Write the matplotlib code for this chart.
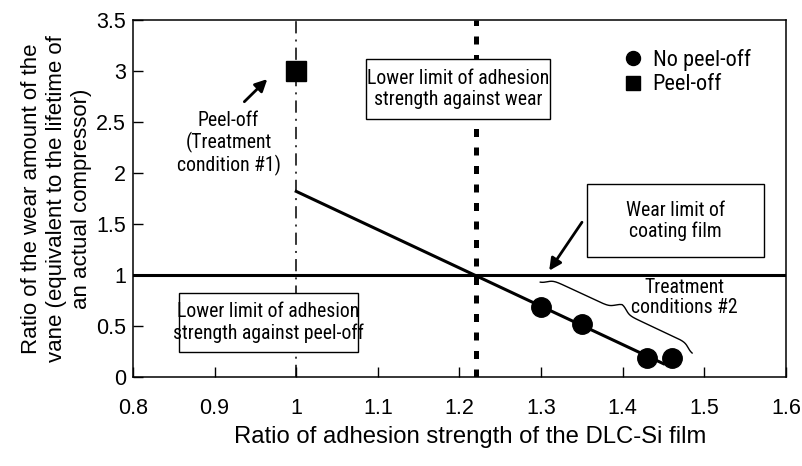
import matplotlib
matplotlib.use('Agg')
import matplotlib.pyplot as plt
from matplotlib.patches import Rectangle
import numpy as np

plt.rcParams['font.family'] = ['Liberation Sans', 'DejaVu Sans']
narrow = ['Roboto Condensed', 'Archivo Narrow', 'Liberation Sans', 'DejaVu Sans']

# data
no_peel_x = [1.30, 1.35, 1.43, 1.46]
no_peel_y = [0.69, 0.52, 0.19, 0.19]
peel_x = [1.0]
peel_y = [3.0]
trend_x = [1.0, 1.45]
trend_y = [1.82, 0.13]
wear_limit = 1.0
peel_limit_x = 1.0
wear_adhesion_x = 1.22

xticks = [0.8, 0.9, 1.0, 1.1, 1.2, 1.3, 1.4, 1.5, 1.6]
xtick_labels = ['0.8', '0.9', '1', '1.1', '1.2', '1.3', '1.4', '1.5', '1.6']
yticks = [0, 0.5, 1, 1.5, 2, 2.5, 3, 3.5]
ytick_labels = ['0', '0.5', '1', '1.5', '2', '2.5', '3', '3.5']

fig = plt.figure(figsize=(8.03, 4.66), dpi=100)
ax = fig.add_axes([0.1656, 0.191, 0.8132, 0.766])
ax.set_xlim(0.8, 1.6)
ax.set_ylim(0, 3.5)

# reference lines
ax.axhline(wear_limit, color='black', lw=2.2, zorder=2)
ax.axvline(peel_limit_x, color='black', lw=1.1, linestyle=(0, (8, 4, 1.3, 4)), zorder=1)
ax.axvline(wear_adhesion_x, color='black', lw=3.6, linestyle=(0, (1.6, 2.1)), zorder=1)
ax.plot(trend_x, trend_y, color='black', lw=2.2, zorder=2)

ax.plot(no_peel_x, no_peel_y, 'o', color='black', ms=14, ls='none', zorder=4, label='No peel-off')
ax.plot(peel_x, peel_y, 's', color='black', ms=14, ls='none', zorder=4, label='Peel-off')

leg = ax.legend(loc='upper left', bbox_to_anchor=(0.721, 0.975), frameon=False,
                markerscale=0.72, handlelength=0.8, handletextpad=0.5,
                labelspacing=0.15, prop={'family': narrow, 'size': 16})

# boxes with labels: (x0, y0, x1, y1), text
boxes = [
    ((1.0855, 2.529, 1.311, 3.118), 'Lower limit of adhesion\nstrength against wear'),
    ((0.856, 0.245, 1.076, 0.824), 'Lower limit of adhesion\nstrength against peel-off'),
    ((1.356, 1.176, 1.573, 1.892), 'Wear limit of\ncoating film'),
]
for (x0, y0, x1, y1), txt in boxes:
    ax.add_patch(Rectangle((x0, y0), x1 - x0, y1 - y0, facecolor='white',
                           edgecolor='black', lw=1.0, zorder=5))
    ax.text((x0 + x1) / 2, (y0 + y1) / 2, txt, ha='center', va='center',
            family=narrow, fontsize=14.2, linespacing=1.1, zorder=6)

ax.text(0.917, 2.29, 'Peel-off\n(Treatment\ncondition #1)', ha='center', va='center',
        family=narrow, fontsize=14.2, linespacing=1.1)
ax.annotate('', xy=(0.967, 2.94), xytext=(0.934, 2.68),
            arrowprops=dict(arrowstyle='-|>', color='black', lw=2, mutation_scale=18))
ax.annotate('', xy=(1.308, 1.02), xytext=(1.352, 1.54),
            arrowprops=dict(arrowstyle='-|>', color='black', lw=2, mutation_scale=18))
ax.text(1.476, 0.78, 'Treatment\nconditions #2', ha='center', va='center',
        family=narrow, fontsize=14.2, linespacing=1.1)

# curly brace drawn in display space
fig.canvas.draw()
p1 = ax.transData.transform((1.299, 0.93))
p2 = ax.transData.transform((1.485, 0.235))
d = p2 - p1
L = np.hypot(*d)
u = d / L
n = np.array([u[1], -u[0]])
if n[1] < 0:
    n = -n
w = 16.0
t = np.linspace(0, 1, 400)
half = np.where(t < 0.5, t * 2, (1 - t) * 2)
h = w * (1 / (1 + np.exp(-30 * (half - 0.07))) * 0.5 + 1 / (1 + np.exp(-30 * (half - 0.93))) * 0.5)
h = h - h[0]
pts = p1[None, :] + t[:, None] * d[None, :] + h[:, None] * n[None, :]
pts_data = ax.transData.inverted().transform(pts)
ax.plot(pts_data[:, 0], pts_data[:, 1], color='black', lw=1.0, zorder=3)

ax.set_xticks(xticks)
ax.set_xticklabels(xtick_labels)
ax.set_yticks(yticks)
ax.set_yticklabels(ytick_labels)
ax.tick_params(axis='x', direction='in', length=7, width=1, pad=15, labelsize=15.5)
ax.tick_params(axis='y', direction='in', length=7, width=1, pad=5, labelsize=15.5)
for s in ax.spines.values():
    s.set_linewidth(1.1)

ax.set_xlabel('Ratio of adhesion strength of the DLC-Si film', fontsize=17.2, labelpad=5)
ax.xaxis.label.set_x(0.516)
ax.set_ylabel('Ratio of the wear amount of the\nvane (equivalent to the lifetime of\nan actual compressor)',
              fontsize=16, linespacing=1.25, labelpad=3)

plt.savefig('out.png', dpi=100)
